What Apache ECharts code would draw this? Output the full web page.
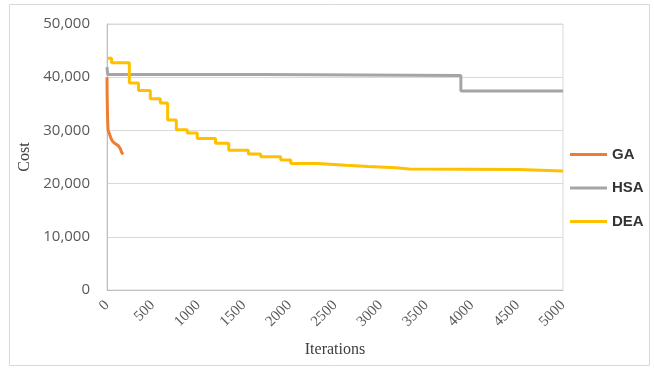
<!DOCTYPE html>
<html>
<head>
<meta charset="utf-8">
<script src="https://cdn.jsdelivr.net/npm/echarts@6/dist/echarts.min.js"></script>
<style>
  html, body { margin: 0; padding: 0; background: #fff; }
  #chart { width: 654px; height: 371px; }
</style>
</head>
<body>
<div id="chart"></div>
<script>
// Algorithm names shown in the legend
const seriesNames = ['GA', 'HSA', 'DEA'];

// GA: best cost per iteration (short run)
const gaIter = [0, 2, 5, 8, 12, 25, 40, 55, 75, 100, 125, 145, 160, 175];
const gaCost = [40000, 36500, 33300, 31500, 30000, 29400, 28700, 28100, 27700, 27400, 27100, 26600, 25900, 25500];

// HSA: best cost, changes only at these iterations
const hsaIter = [0, 8, 1690, 3880, 5000];
const hsaCost = [41900, 40500, 40300, 37400, 37400];

// DEA: best cost, changes only at these iterations
const deaIter = [0, 50, 245, 345, 475, 585, 665, 760, 880, 990, 1190, 1335, 1550, 1685, 1905, 2015, 2310, 2620, 2865, 3170, 3315, 4510, 5000];
const deaCost = [43550, 42700, 38900, 37500, 35950, 35150, 31950, 30100, 29500, 28500, 27600, 26250, 25550, 25050, 24450, 23800, 23450, 23200, 23000, 22750, 22650, 22350, 22350];

const colors = ['#ED7D31', '#A5A5A5', '#FFC000'];

const zip = (xs, ys) => xs.map((x, i) => [x, ys[i]]);

const chart = echarts.init(document.getElementById('chart'), null, { renderer: 'canvas' });

const fmt = v => v.toLocaleString('en-US');

chart.setOption({
  animation: false,
  backgroundColor: '#fff',
  color: colors,
  graphic: [{
    type: 'rect',
    shape: { x: 9.5, y: 4.5, width: 640, height: 361 },
    style: { fill: 'none', stroke: '#d9d9d9', lineWidth: 1 },
    silent: true
  }],
  grid: {
    left: 107, top: 24, right: 91, bottom: 81,
    show: true, borderColor: '#d9d9d9', borderWidth: 1
  },
  legend: {
    data: seriesNames,
    orient: 'vertical',
    left: 565, top: 142,
    icon: 'path://M0,0H37V3H0Z',
    itemWidth: 37, itemHeight: 14, itemGap: 18.5,
    textStyle: { fontFamily: 'Liberation Sans', fontWeight: 'bold', fontSize: 15, color: '#333' }
  },
  xAxis: {
    type: 'value', min: 0, max: 5000, interval: 500,
    name: 'Iterations', nameLocation: 'middle', nameGap: 52,
    nameTextStyle: { fontFamily: 'Liberation Serif', fontSize: 16, color: '#404040' },
    axisLine: { show: true, lineStyle: { color: '#bfbfbf', width: 1 } },
    axisTick: { show: false },
    splitLine: { show: false },
    axisLabel: {
      rotate: 45, margin: 13,
      fontFamily: 'Liberation Serif', fontSize: 15, color: '#595959',
      showMinLabel: true, showMaxLabel: true,
      formatter: v => String(v)
    }
  },
  yAxis: {
    type: 'value', min: 0, max: 50000, interval: 10000,
    name: 'Cost', nameLocation: 'middle', nameGap: 74,
    nameTextStyle: { fontFamily: 'Liberation Serif', fontSize: 16, color: '#404040' },
    axisLine: { show: true, lineStyle: { color: '#bfbfbf', width: 1 } },
    axisTick: { show: false },
    splitLine: { show: true, lineStyle: { color: '#d9d9d9', width: 1 } },
    axisLabel: {
      margin: 17,
      fontFamily: 'Open Sans', fontSize: 15, color: '#595959',
      formatter: fmt
    }
  },
  series: [
    {
      name: seriesNames[0], type: 'line', symbol: 'none',
      data: zip(gaIter, gaCost),
      lineStyle: { width: 3, color: colors[0] }, itemStyle: { color: colors[0] }
    },
    {
      name: seriesNames[1], type: 'line', symbol: 'none', step: 'end',
      data: zip(hsaIter, hsaCost),
      lineStyle: { width: 3, color: colors[1] }, itemStyle: { color: colors[1] }
    },
    {
      name: seriesNames[2], type: 'line', symbol: 'none', step: 'end',
      data: zip(deaIter, deaCost),
      lineStyle: { width: 3, color: colors[2] }, itemStyle: { color: colors[2] }
    }
  ]
});
</script>
</body>
</html>
